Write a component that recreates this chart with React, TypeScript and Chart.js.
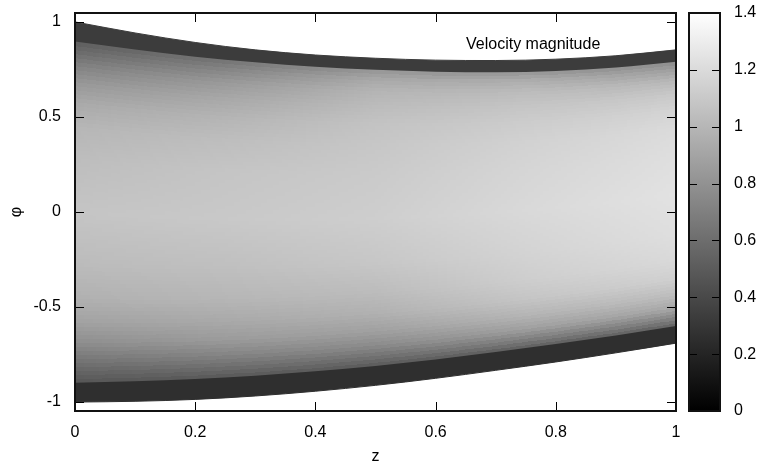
import { useEffect, useRef } from 'react';
import { Chart, registerables } from 'chart.js';

Chart.register(...registerables);

// ---------- data ----------
const zGrid = [0, 0.1, 0.2, 0.3, 0.4, 0.5, 0.6, 0.7, 0.8, 0.9, 1];
// outer and inner edges of the dark wall bands (phi)
const upperEdge = [1.0, 0.942, 0.892, 0.853, 0.826, 0.809, 0.799, 0.797, 0.804, 0.822, 0.853];
const upperInner = [0.897, 0.855, 0.817, 0.788, 0.764, 0.748, 0.738, 0.735, 0.742, 0.76, 0.79];
const lowerInner = [-0.898, -0.89, -0.878, -0.861, -0.838, -0.81, -0.776, -0.737, -0.695, -0.65, -0.6];
const lowerEdge = [-1.0, -0.996, -0.986, -0.968, -0.943, -0.912, -0.875, -0.833, -0.789, -0.741, -0.69];
const upperBandValue = 0.33;
const lowerBandValue = 0.26;

// velocity magnitude across the channel (s = 0 lower inner edge, s = 1 upper inner edge)
const profileZ = [0, 0.25, 0.5, 0.75, 1];
const profileS = [0, 0.03, 0.07, 0.12, 0.18, 0.25, 0.35, 0.5, 0.65, 0.75, 0.82, 0.88, 0.93, 0.97, 1];
const speedZ000 = [0.47, 0.54, 0.65, 0.78, 0.89, 0.97, 1.03, 1.08, 1.04, 1.0, 0.93, 0.83, 0.71, 0.59, 0.51];
const speedZ025 = [0.48, 0.59, 0.72, 0.85, 0.93, 1.0, 1.05, 1.1, 1.08, 1.04, 0.99, 0.92, 0.84, 0.73, 0.63];
const speedZ050 = [0.49, 0.61, 0.76, 0.88, 0.97, 1.03, 1.09, 1.13, 1.11, 1.09, 1.07, 1.03, 0.99, 0.92, 0.82];
const speedZ075 = [0.51, 0.68, 0.87, 0.99, 1.08, 1.13, 1.16, 1.19, 1.17, 1.15, 1.12, 1.08, 1.03, 0.95, 0.82];
const speedZ100 = [0.53, 0.71, 0.92, 1.04, 1.14, 1.19, 1.22, 1.24, 1.22, 1.2, 1.16, 1.1, 1.01, 0.88, 0.77];
const speedColumns = [speedZ000, speedZ025, speedZ050, speedZ075, speedZ100];

const xTickValues = [0, 0.2, 0.4, 0.6, 0.8, 1];
const yTickValues = [-1, -0.5, 0, 0.5, 1];
const cbTickValues = [0, 0.2, 0.4, 0.6, 0.8, 1, 1.2, 1.4];
const cbMin = 0;
const cbMax = 1.4;
const keyLabel = 'Velocity magnitude';
const xTitle = 'z';
const yTitle = 'φ';

// ---------- helpers ----------
const FONT = '"Liberation Sans", Arial, Helvetica, sans-serif';

function interp(xs: number[], ys: number[], x: number): number {
  if (x <= xs[0]) return ys[0];
  for (let i = 1; i < xs.length; i++) {
    if (x <= xs[i]) {
      const t = (x - xs[i - 1]) / (xs[i] - xs[i - 1]);
      return ys[i - 1] + t * (ys[i] - ys[i - 1]);
    }
  }
  return ys[ys.length - 1];
}

function profileAt(z: number): number[] {
  return profileS.map((_, k) => interp(profileZ, speedColumns.map((c) => c[k]), z));
}

function gray(v: number): string {
  const g = Math.max(0, Math.min(255, Math.round(((v - cbMin) / (cbMax - cbMin)) * 255)));
  return `rgb(${g},${g},${g})`;
}

const heatmapPlugin = {
  id: 'heatmap',
  beforeDatasetsDraw(chart: any) {
    const { ctx, chartArea: ca, scales } = chart;
    const xs = scales.x;
    const ys = scales.y;
    ctx.save();
    ctx.beginPath();
    ctx.rect(ca.left, ca.top, ca.right - ca.left, ca.bottom - ca.top);
    ctx.clip();
    const cols = 200;
    const rows = 85;
    for (let i = 0; i < cols; i++) {
      const z0 = i / cols;
      const z1 = (i + 1) / cols;
      const zc = (z0 + z1) / 2;
      const px0 = Math.floor(xs.getPixelForValue(z0));
      const px1 = Math.ceil(xs.getPixelForValue(z1));
      const lo = interp(zGrid, lowerInner, zc);
      const hi = interp(zGrid, upperInner, zc);
      const prof = profileAt(zc);
      for (let r = 0; r < rows; r++) {
        const s0 = r / rows;
        const s1 = (r + 1) / rows;
        const v = interp(profileS, prof, (s0 + s1) / 2);
        let yb = ys.getPixelForValue(lo + s0 * (hi - lo));
        let yt = ys.getPixelForValue(lo + s1 * (hi - lo));
        if (r === 0) yb += 4;
        if (r === rows - 1) yt -= 4;
        ctx.fillStyle = gray(v);
        const y0 = Math.floor(yt);
        ctx.fillRect(px0, y0, px1 - px0, Math.ceil(yb) - y0);
      }
    }
    ctx.restore();
  },
  afterDraw(chart: any) {
    const { ctx, chartArea: ca, scales } = chart;
    ctx.save();
    // tick marks (inward, mirrored)
    const L = 9;
    ctx.strokeStyle = '#000';
    ctx.lineWidth = 1;
    ctx.beginPath();
    for (const t of scales.x.ticks) {
      const px = Math.round(scales.x.getPixelForValue(t.value)) + 0.5;
      ctx.moveTo(px, ca.bottom);
      ctx.lineTo(px, ca.bottom - L);
      ctx.moveTo(px, ca.top);
      ctx.lineTo(px, ca.top + L);
    }
    for (const t of scales.y.ticks) {
      const py = Math.round(scales.y.getPixelForValue(t.value)) + 0.5;
      ctx.moveTo(ca.left, py);
      ctx.lineTo(ca.left + L, py);
      ctx.moveTo(ca.right, py);
      ctx.lineTo(ca.right - L, py);
    }
    ctx.stroke();
    // plot border
    ctx.lineWidth = 2;
    ctx.strokeStyle = '#111';
    ctx.strokeRect(ca.left, ca.top, ca.right - ca.left, ca.bottom - ca.top);

    // colour box
    const cb = scales.cb;
    const bx0 = cb.left + 13;
    const bx1 = cb.left + 44;
    const yTop = cb.getPixelForValue(cbMax);
    const yBot = cb.getPixelForValue(cbMin);
    const grad = ctx.createLinearGradient(0, yBot, 0, yTop);
    grad.addColorStop(0, gray(cbMin));
    grad.addColorStop(1, gray(cbMax));
    ctx.fillStyle = grad;
    ctx.fillRect(bx0, yTop, bx1 - bx0, yBot - yTop);
    ctx.lineWidth = 1;
    ctx.strokeStyle = '#000';
    ctx.beginPath();
    for (const t of cb.ticks) {
      const py = Math.round(cb.getPixelForValue(t.value)) + 0.5;
      ctx.moveTo(bx0, py);
      ctx.lineTo(bx0 + 8, py);
      ctx.moveTo(bx1, py);
      ctx.lineTo(bx1 - 8, py);
    }
    ctx.stroke();
    ctx.lineWidth = 2;
    ctx.strokeStyle = '#111';
    ctx.strokeRect(bx0, yTop, bx1 - bx0, yBot - yTop);

    // key
    ctx.fillStyle = '#000';
    ctx.font = `16px ${FONT}`;
    ctx.textAlign = 'left';
    ctx.textBaseline = 'middle';
    ctx.fillText(keyLabel, ca.right - 210, ca.top + 31.5);
    ctx.restore();
  },
};

function pts(ys: number[]) {
  return zGrid.map((z, i) => ({ x: z, y: ys[i] }));
}

function noPad(s: any) {
  s.paddingTop = 0;
  s.paddingBottom = 0;
  s.paddingLeft = 0;
  s.paddingRight = 0;
}

export default function App() {
  const ref = useRef<HTMLCanvasElement>(null);

  useEffect(() => {
    const canvas = ref.current;
    if (!canvas) return;
    const tickFont = { family: FONT, size: 16 };
    const common = {
      grid: { display: false, drawTicks: false },
      border: { display: false },
    };
    const chart = new Chart(canvas, {
      type: 'line',
      data: {
        datasets: [
          {
            data: pts(upperEdge),
            borderColor: gray(upperBandValue),
            backgroundColor: gray(upperBandValue),
            borderWidth: 1,
            pointRadius: 0,
            fill: '+1',
            cubicInterpolationMode: 'monotone',
          },
          {
            data: pts(upperInner),
            borderColor: 'rgba(0,0,0,0)',
            borderWidth: 1,
            pointRadius: 0,
            fill: false,
            cubicInterpolationMode: 'monotone',
          },
          {
            data: pts(lowerInner),
            borderColor: 'rgba(0,0,0,0)',
            backgroundColor: gray(lowerBandValue),
            borderWidth: 1,
            pointRadius: 0,
            fill: '+1',
            cubicInterpolationMode: 'monotone',
          },
          {
            data: pts(lowerEdge),
            borderColor: gray(lowerBandValue),
            borderWidth: 1,
            pointRadius: 0,
            fill: false,
            cubicInterpolationMode: 'monotone',
          },
        ],
      },
      options: {
        animation: false,
        responsive: false,
        maintainAspectRatio: false,
        layout: { padding: { top: 13, left: 0, right: 0, bottom: 0 } },
        plugins: {
          legend: { display: false },
          tooltip: { enabled: false },
        },
        scales: {
          x: {
            type: 'linear',
            position: 'bottom',
            min: 0,
            max: 1,
            ...common,
            afterBuildTicks: (s: any) => {
              s.ticks = xTickValues.map((v) => ({ value: v }));
            },
            afterFit: (s: any) => {
              s.height = 56;
              noPad(s);
            },
            ticks: {
              font: tickFont,
              color: '#000',
              padding: 12,
              maxRotation: 0,
              autoSkip: false,
              callback: (v: any) => String(v),
            },
            title: {
              display: true,
              text: xTitle,
              font: tickFont,
              color: '#000',
              padding: { top: 0, bottom: 1 },
            },
          },
          y: {
            type: 'linear',
            position: 'left',
            min: -1.047,
            max: 1.047,
            ...common,
            afterBuildTicks: (s: any) => {
              s.ticks = yTickValues.map((v) => ({ value: v }));
            },
            afterFit: (s: any) => {
              s.width = 75;
              noPad(s);
            },
            ticks: {
              font: tickFont,
              color: '#000',
              padding: 14,
              autoSkip: false,
              callback: (v: any) => String(v),
            },
            title: {
              display: true,
              text: yTitle,
              font: tickFont,
              color: '#000',
              padding: { top: 7, bottom: 0 },
            },
          },
          cb: {
            type: 'linear',
            position: 'right',
            min: cbMin,
            max: cbMax,
            ...common,
            afterBuildTicks: (s: any) => {
              s.ticks = cbTickValues.map((v) => ({ value: v }));
            },
            afterFit: (s: any) => {
              s.width = 84;
              noPad(s);
            },
            ticks: {
              font: tickFont,
              color: '#000',
              padding: 58,
              autoSkip: false,
              callback: (v: any) => String(v),
            },
          },
        },
      } as any,
      plugins: [heatmapPlugin],
    } as any);
    return () => chart.destroy();
  }, []);

  return (
    <div style={{ position: 'fixed', left: 0, top: 0, width: 760, height: 467, background: '#fff' }}>
      <canvas ref={ref} width={760} height={467} style={{ width: 760, height: 467, display: 'block' }} />
    </div>
  );
}
